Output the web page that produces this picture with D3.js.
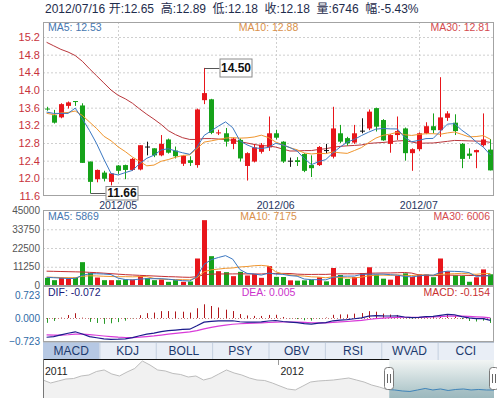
<!DOCTYPE html>
<html>
<head>
<meta charset="utf-8">
<script src="https://cdn.jsdelivr.net/npm/d3@7"></script>
<style>
  html, body { margin: 0; padding: 0; background: #fff; }
  svg { display: block; font-family: "Liberation Sans", Arial, "Noto Sans CJK SC", sans-serif; }
</style>
</head>
<body>
<svg id="chart" width="497" height="400"></svg>
<script>
// ---- daily data, 2012/04/16 - 2012/07/16 ----
const dates = [
  "2012-04-16","2012-04-17","2012-04-18","2012-04-19","2012-04-20","2012-04-23","2012-04-24","2012-04-25","2012-04-26","2012-04-27",
  "2012-05-02","2012-05-03","2012-05-04","2012-05-07","2012-05-08","2012-05-09","2012-05-10","2012-05-11","2012-05-14","2012-05-15",
  "2012-05-16","2012-05-17","2012-05-18","2012-05-21","2012-05-22","2012-05-23","2012-05-24","2012-05-25","2012-05-28","2012-05-29",
  "2012-05-30","2012-05-31","2012-06-01","2012-06-04","2012-06-05","2012-06-06","2012-06-07","2012-06-08","2012-06-11","2012-06-12",
  "2012-06-13","2012-06-14","2012-06-15","2012-06-18","2012-06-19","2012-06-20","2012-06-21","2012-06-25","2012-06-26","2012-06-27",
  "2012-06-28","2012-06-29","2012-07-02","2012-07-03","2012-07-04","2012-07-05","2012-07-06","2012-07-09","2012-07-10","2012-07-11",
  "2012-07-12","2012-07-13","2012-07-16"
];
const open = [
  13.58,13.43,13.38,13.64,13.75,13.65,12.38,11.98,12.13,11.92,
  12.29,12.30,12.19,12.20,12.72,12.68,12.52,12.88,12.63,12.33,
  12.41,12.30,13.77,13.79,13.03,13.02,12.78,12.87,12.28,12.38,
  12.60,12.70,13.02,12.83,12.40,12.41,12.55,12.30,12.30,12.64,
  12.49,13.02,12.91,12.81,13.08,13.13,13.59,13.32,12.78,12.98,
  13.13,12.57,12.66,13.02,13.18,13.09,13.37,13.26,12.78,12.56,
  12.59,12.75,12.65
];
const high = [
  13.62,13.55,13.70,13.74,13.75,13.70,12.38,12.20,12.17,12.12,
  12.30,12.31,12.46,12.75,12.83,12.68,12.98,12.90,12.72,12.53,
  12.50,13.58,14.50,13.80,13.10,13.14,12.92,12.90,12.59,12.78,
  12.80,13.40,13.10,12.84,12.47,12.48,12.57,12.52,12.73,12.78,
  13.62,13.21,12.94,13.21,13.36,13.56,13.60,13.34,13.00,13.40,
  13.15,12.68,13.04,13.27,13.47,14.29,13.52,13.45,12.80,12.68,
  12.65,13.47,12.89
];
const low = [
  13.53,13.24,13.36,13.58,13.64,12.35,11.66,11.91,11.93,11.84,
  12.10,11.98,12.17,12.18,12.52,12.48,12.50,12.56,12.45,12.28,
  12.28,12.24,13.68,13.00,12.98,12.72,12.66,12.38,11.95,12.36,
  12.56,12.62,12.88,12.35,12.26,12.28,12.14,12.03,12.28,12.57,
  12.45,12.80,12.74,12.78,13.02,13.09,13.06,12.85,12.58,12.87,
  12.40,12.17,12.62,13.00,13.02,12.94,13.30,12.98,12.23,12.44,
  12.23,12.72,12.18
];
const close = [
  13.56,13.26,13.68,13.72,13.73,12.35,11.92,12.19,11.99,12.11,
  12.17,12.19,12.44,12.75,12.72,12.52,12.78,12.58,12.50,12.51,
  12.35,13.56,13.93,13.03,13.04,12.83,12.90,12.45,12.57,12.70,
  12.76,13.02,12.92,12.38,12.40,12.37,12.17,12.23,12.71,12.64,
  13.13,12.83,12.79,13.02,13.08,13.51,13.17,12.86,12.98,13.07,
  12.57,12.66,13.02,13.18,13.09,13.38,13.47,13.07,12.44,12.51,
  12.64,12.88,12.18
];
const volume = [
  4600,3200,4600,4000,4800,14000,7600,4800,3200,3200,
  3200,3600,3600,5600,4400,3200,3600,2200,3200,2200,
  2400,16200,39200,17600,8600,8000,5600,8200,6000,6800,
  4600,11600,5200,5100,3100,2900,3100,3500,4900,2500,
  10500,6300,3900,5100,7500,10930,6500,4100,3500,5900,
  7300,5100,6700,6600,5000,16200,8500,6105,5750,2250,
  4950,9649,6746
];

// sessions just before the window (needed to start the 5/10-day averages)
const closesBefore = [13.55,13.30,13.62,13.40,13.35,13.41,13.68,13.72,13.13];
const volumesBefore = [5200,6000,4800,5600,5000,4400,5800,5200,4600];
// 30-day averages for sessions whose window reaches back before 2012/04/16
const ma30Lead = [
  15.08,15.00,14.92,14.86,14.78,14.65,14.48,14.32,14.16,14.00,
  13.88,13.80,13.70,13.57,13.45,13.34,13.22,13.08,12.99,12.92,
  12.88,12.88,12.90,12.90,12.89,12.88,12.86,12.83,12.80
];
const volMa30Lead = [
  8600,8500,8400,8300,8200,8100,7900,7700,7400,7100,
  6800,6500,6300,6100,5900,5700,5500,5300,5200,5000,
  4900,5300,6450,6850,6900,6950,6950,7000,6950
];
// EMA state carried in from the session before 2012/04/16
const macdSeed = { ema12: 13.60, ema26: 14.25, dea: -0.51 };

const priceTicks = [11.6,12.0,12.4,12.8,13.2,13.6,14.0,14.4,14.8,15.2];
const volumeTicks = [0,11250,22500,33750,45000];
const macdTicks = [-0.723,0,0.723];
const indicatorTabs = ["MACD","KDJ","BOLL","PSY","OBV","RSI","WVAD","CCI"];

// long-range overview series for the navigator strip
const overview = [
  13.73,13.19,13.55,13.91,14.00,14.45,14.63,15.26,15.53,14.81,
  14.45,15.17,15.80,17.14,16.42,15.53,15.35,14.90,14.72,14.27,
  14.45,13.73,14.09,14.81,15.53,14.99,14.63,14.09,13.73,13.64,
  13.19,12.65,12.12,11.94,12.65,13.37,13.55,13.64,13.73,13.91,
  14.09,13.73,13.37,12.83,12.47,12.03,11.94,11.76,11.67,11.94,
  12.21,11.94,12.12,11.85,12.03,12.12,11.94,12.03,11.94,11.94
];
const overviewYears = [["2011", 0], ["2012", 30.8]];
const overviewSelectionStart = 45.3;

// ---- derived series ----
function movingAverage(values, before, period, lead) {
  const all = before.concat(values);
  const off = before.length;
  return values.map((_, i) => {
    if (lead && i < lead.length) return lead[i];
    return d3.mean(all.slice(off + i - period + 1, off + i + 1));
  });
}
const ma5 = movingAverage(close, closesBefore, 5);
const ma10 = movingAverage(close, closesBefore, 10);
const ma30 = movingAverage(close, closesBefore, 30, ma30Lead);
const vma5 = movingAverage(volume, volumesBefore, 5);
const vma10 = movingAverage(volume, volumesBefore, 10);
const vma30 = movingAverage(volume, volumesBefore, 30, volMa30Lead);

const dif = [], dea = [], macdHist = [];
{
  let e12 = macdSeed.ema12, e26 = macdSeed.ema26, de = macdSeed.dea;
  close.forEach(c => {
    e12 = e12 * 11 / 13 + c * 2 / 13;
    e26 = e26 * 25 / 27 + c * 2 / 27;
    const d = e12 - e26;
    de = de * 0.8 + d * 0.2;
    dif.push(d); dea.push(de); macdHist.push(2 * (d - de));
  });
}

// ---- layout ----
const svg = d3.select("#chart");
const L = 43, R = 494;
const n = close.length;
const last = n - 1;
const UP = "#e8161b", DOWN = "#16a21a", DOJI = "#111";
const BORDER = "#a3a3a3", GRID = "#cfcfcf";

const x = d3.scaleBand().domain(d3.range(n)).range([L, R]);
const cx = i => x(i) + x.bandwidth() / 2;
const bodyW = 5;

const price = { top: 22, bottom: 196 };
const vol = { top: 210, bottom: 286 };
const mac = { top: 286, bottom: 342 };

const yP = d3.scaleLinear().domain([11.6, 15.2]).range([196, 37]);
const yV = d3.scaleLinear().domain([0, 45000]).range([285.5, 210.5]);
const yM = d3.scaleLinear().domain([-0.723, 0.723]).range([341, 295]);

const candleColor = i => close[i] > open[i] ? UP : close[i] < open[i] ? DOWN : DOJI;
const volColor = i => {
  if (close[i] !== open[i]) return close[i] > open[i] ? UP : DOWN;
  const prev = i > 0 ? close[i - 1] : closesBefore[closesBefore.length - 1];
  return close[i] >= prev ? UP : DOWN;
};

// month boundaries
const monthStarts = d3.range(n).filter(i => i > 0 && dates[i].slice(5, 7) !== dates[i - 1].slice(5, 7));

// ---- header ----
const pct = (close[last] - close[last - 1]) / close[last - 1] * 100;
const headerParts = [
  dates[last].replace(/-/g, "/"),
  "开:" + open[last].toFixed(2),
  "高:" + high[last].toFixed(2),
  "低:" + low[last].toFixed(2),
  "收:" + close[last].toFixed(2),
  "量:" + volume[last],
  "幅:" + pct.toFixed(2) + "%"
];
{
  let hx = 45;
  headerParts.forEach((t, k) => {
    const node = svg.append("text").attr("x", hx).attr("y", 12.6)
      .attr("font-size", 12).attr("fill", "#1e2c4c").text(t);
    hx += node.node().getComputedTextLength() + (k === 0 ? 3.6 : 6.6);
  });
}

// ---- clip paths ----
const defs = svg.append("defs");
defs.append("clipPath").attr("id", "clipPrice").append("rect")
  .attr("x", L).attr("y", price.top).attr("width", R - L).attr("height", price.bottom - price.top);
defs.append("clipPath").attr("id", "clipVol").append("rect")
  .attr("x", L).attr("y", vol.top).attr("width", R - L).attr("height", vol.bottom - vol.top);
defs.append("clipPath").attr("id", "clipMacd").append("rect")
  .attr("x", L).attr("y", mac.top).attr("width", R - L).attr("height", mac.bottom - mac.top);

function panelFrame(p) {
  svg.append("rect").attr("x", L + 0.5).attr("y", p.top + 0.5)
    .attr("width", R - L - 1).attr("height", p.bottom - p.top - 1)
    .attr("fill", "none").attr("stroke", BORDER);
}
function monthGrid(p) {
  svg.append("g").selectAll("line").data(monthStarts).join("line")
    .attr("x1", i => Math.round(cx(i)) + 0.5).attr("x2", i => Math.round(cx(i)) + 0.5)
    .attr("y1", p.top).attr("y2", p.bottom)
    .attr("stroke", GRID).attr("stroke-dasharray", "2,2");
}
function styleAxis(g, color, size) {
  g.select(".domain").remove();
  g.selectAll(".tick line").attr("stroke", GRID).attr("stroke-dasharray", "2,2");
  g.selectAll(".tick text").attr("fill", color).attr("font-size", size)
    .attr("font-family", "Liberation Sans, Arial, sans-serif");
}

// ---- price panel ----
monthGrid(price);
svg.append("g").attr("transform", `translate(${L},0)`)
  .call(d3.axisLeft(yP).tickValues(priceTicks).tickSize(-(R - L)).tickPadding(3).tickFormat(d3.format(".1f")))
  .call(g => styleAxis(g, "#c8323c", 11))
  .call(g => g.selectAll(".tick line").filter(d => d === 11.6).remove());

const pg = svg.append("g").attr("clip-path", "url(#clipPrice)");
const lineP = d3.line().x((d, i) => cx(i)).y(d => yP(d));
pg.append("path").datum(ma30).attr("d", lineP).attr("fill", "none").attr("stroke", "#b9373c").attr("stroke-width", 1);

const candles = pg.append("g").selectAll("g").data(d3.range(n)).join("g");
candles.append("line")
  .attr("x1", i => Math.round(cx(i)) + 0.5).attr("x2", i => Math.round(cx(i)) + 0.5)
  .attr("y1", i => yP(high[i])).attr("y2", i => yP(low[i]))
  .attr("stroke", candleColor);
candles.append("rect")
  .attr("x", i => Math.round(cx(i)) + 0.5 - bodyW / 2)
  .attr("y", i => yP(Math.max(open[i], close[i])))
  .attr("width", bodyW)
  .attr("height", i => Math.max(1, yP(Math.min(open[i], close[i])) - yP(Math.max(open[i], close[i]))))
  .attr("fill", candleColor);

pg.append("path").datum(ma10).attr("d", lineP).attr("fill", "none").attr("stroke", "#f0962e").attr("stroke-width", 1);
pg.append("path").datum(ma5).attr("d", lineP).attr("fill", "none").attr("stroke", "#3b78c2").attr("stroke-width", 1);

// extreme value call-outs: connector from the wick end to a boxed label
function callout(i, v, boxTop, boxH, textShift) {
  const px = Math.round(cx(i)) + 0.5, py = Math.round(yP(v)) + 0.5;
  const bx = px + 15, bw = 32;
  svg.append("line").attr("x1", px).attr("x2", bx).attr("y1", py).attr("y2", py).attr("stroke", "#555");
  svg.append("rect").attr("x", bx + 0.5).attr("y", py + boxTop).attr("width", bw).attr("height", boxH)
    .attr("fill", "#fff").attr("stroke", "#8a8a8a");
  svg.append("text").attr("x", bx + 0.5 + bw / 2).attr("y", py + boxTop + boxH / 2 + 4.3 + textShift)
    .attr("text-anchor", "middle")
    .attr("font-size", 12).attr("font-weight", "bold").attr("fill", "#111").text(v.toFixed(2));
}
const hiIdx = d3.maxIndex(high), loIdx = d3.minIndex(low);

// legend
function legend(p, baseline, items) {
  svg.append("text").attr("x", 48).attr("y", baseline).attr("font-size", 10.5).attr("fill", items[0][1]).text(items[0][0]);
  svg.append("text").attr("x", (L + R) / 2).attr("y", baseline).attr("text-anchor", "middle")
    .attr("font-size", 10.5).attr("fill", items[1][1]).text(items[1][0]);
  svg.append("text").attr("x", R - 4).attr("y", baseline).attr("text-anchor", "end")
    .attr("font-size", 10.5).attr("fill", items[2][1]).text(items[2][0]);
}
legend(price, 30.5, [
  ["MA5: " + ma5[last].toFixed(2), "#4677b0"],
  ["MA10: " + ma10[last].toFixed(2), "#d9904a"],
  ["MA30: " + ma30[last].toFixed(2), "#d44a4e"]
]);
panelFrame(price);
callout(hiIdx, high[hiIdx], -9.5, 18, 0);
callout(loIdx, low[loIdx], -7, 13.5, -1);

// month labels
svg.append("g").selectAll("text").data(monthStarts).join("text")
  .attr("x", i => cx(i)).attr("y", 208.9).attr("text-anchor", "middle")
  .attr("font-size", 10.5).attr("fill", "#1f3560")
  .text(i => dates[i].slice(0, 7).replace("-", "/"));

// ---- volume panel ----
monthGrid(vol);
svg.append("g").attr("transform", `translate(${L},0)`)
  .call(d3.axisLeft(yV).tickValues(volumeTicks).tickSize(-(R - L)).tickPadding(3).tickFormat(d3.format("d")))
  .call(g => styleAxis(g, "#555", 10))
  .call(g => g.selectAll(".tick line").filter(d => d === 0 || d === 45000).remove());
const vg = svg.append("g").attr("clip-path", "url(#clipVol)");
vg.selectAll("rect").data(d3.range(n)).join("rect")
  .attr("x", i => Math.round(cx(i)) + 0.5 - bodyW / 2)
  .attr("y", i => yV(volume[i]))
  .attr("width", bodyW)
  .attr("height", i => yV(0) - yV(volume[i]))
  .attr("fill", volColor);
const lineV = d3.line().x((d, i) => cx(i)).y(d => yV(d));
vg.append("path").datum(vma30).attr("d", lineV).attr("fill", "none").attr("stroke", "#c42e32");
vg.append("path").datum(vma10).attr("d", lineV).attr("fill", "none").attr("stroke", "#f0962e");
vg.append("path").datum(vma5).attr("d", lineV).attr("fill", "none").attr("stroke", "#3b78c2");
legend(vol, 219.8, [
  ["MA5: " + Math.round(vma5[last]), "#4677b0"],
  ["MA10: " + Math.round(vma10[last]), "#d9904a"],
  ["MA30: " + Math.round(vma30[last]), "#d44a4e"]
]);
panelFrame(vol);

// ---- MACD panel ----
svg.append("g").attr("transform", `translate(${L},0)`)
  .call(d3.axisLeft(yM).tickValues(macdTicks).tickSize(0).tickPadding(3).tickFormat(d3.format(".3f")))
  .call(g => styleAxis(g, "#2e6aa6", 10));
const mg = svg.append("g").attr("clip-path", "url(#clipMacd)");
mg.append("line").attr("x1", L).attr("x2", R).attr("y1", Math.round(yM(0)) + 0.5).attr("y2", Math.round(yM(0)) + 0.5)
  .attr("stroke", "#c87878").attr("stroke-dasharray", "1,2");
mg.selectAll("line.bar").data(d3.range(n)).join("line").attr("class", "bar")
  .attr("x1", i => Math.round(cx(i)) + 0.5).attr("x2", i => Math.round(cx(i)) + 0.5)
  .attr("y1", yM(0)).attr("y2", i => yM(macdHist[i]))
  .attr("stroke", i => macdHist[i] >= 0 ? "#b0161b" : "#2a9a2a");
const lineM = d3.line().x((d, i) => cx(i)).y(d => yM(d));
mg.append("path").datum(dea).attr("d", lineM).attr("fill", "none").attr("stroke", "#d93ad9").attr("stroke-width", 1.2);
mg.append("path").datum(dif).attr("d", lineM).attr("fill", "none").attr("stroke", "#1c1c8c").attr("stroke-width", 1.2);
legend(mac, 295.5, [
  ["DIF: " + dif[last].toFixed(3), "#1a1a7a"],
  ["DEA: " + dea[last].toFixed(3), "#cc33cc"],
  ["MACD: " + macdHist[last].toFixed(3), "#c83030"]
]);
panelFrame(mac);

// ---- indicator tabs ----
const tabTop = 342, tabBottom = 360;
const tabW = (R - L) / indicatorTabs.length;
svg.append("rect").attr("x", L).attr("y", tabTop).attr("width", R - L).attr("height", tabBottom - tabTop).attr("fill", "#e9eef6");
const tabs = svg.append("g").selectAll("g").data(indicatorTabs).join("g")
  .attr("transform", (d, k) => `translate(${L + k * tabW},${tabTop})`);
tabs.append("rect").attr("width", tabW).attr("height", tabBottom - tabTop)
  .attr("fill", (d, k) => k === 0 ? "#b6c8e3" : "#e9eef6");
tabs.filter((d, k) => k > 0).append("line").attr("x1", 0.5).attr("x2", 0.5).attr("y1", 0).attr("y2", tabBottom - tabTop)
  .attr("stroke", "#c3cfdf");
tabs.append("text").attr("x", tabW / 2).attr("y", 13.2).attr("text-anchor", "middle")
  .attr("font-size", 12).attr("fill", "#1d3a6e").text(d => d);
svg.append("line").attr("x1", L).attr("x2", R).attr("y1", tabTop + 0.5).attr("y2", tabTop + 0.5).attr("stroke", "#b5c0cf");

// ---- navigator ----
const navTop = 360, navBottom = 398;
const xo = d3.scaleLinear().domain([0, overview.length - 1]).range([L, R]);
const yo = d3.scaleLinear().domain([10.5, 17.5]).range([navBottom, 359]);
const selX = xo(overviewSelectionStart);
const grad = defs.append("linearGradient").attr("id", "selFill").attr("x1", 0).attr("x2", 0).attr("y1", 0).attr("y2", 1);
grad.append("stop").attr("offset", "0%").attr("stop-color", "#f2f5f4");
grad.append("stop").attr("offset", "100%").attr("stop-color", "#a4bfc3");
defs.append("clipPath").attr("id", "clipOut").append("rect").attr("x", L).attr("y", navTop).attr("width", selX - L).attr("height", navBottom - navTop);
defs.append("clipPath").attr("id", "clipIn").append("rect").attr("x", selX).attr("y", navTop).attr("width", R - selX).attr("height", navBottom - navTop);

const areaO = d3.area().x((d, i) => xo(i)).y0(navBottom).y1(d => yo(d));
const lineO = d3.line().x((d, i) => xo(i)).y(d => yo(d));
const outG = svg.append("g").attr("clip-path", "url(#clipOut)");
outG.append("path").datum(overview).attr("d", areaO).attr("fill", "#f1f1f1");
outG.append("path").datum(overview).attr("d", lineO).attr("fill", "none").attr("stroke", "#bcbcbc");
svg.append("rect").attr("x", selX).attr("y", navTop).attr("width", R - selX).attr("height", navBottom - navTop).attr("fill", "url(#selFill)");
const inG = svg.append("g").attr("clip-path", "url(#clipIn)");
inG.append("path").datum(overview).attr("d", areaO).attr("fill", "#8fb0b8").attr("opacity", 0.35);
inG.append("path").datum(overview).attr("d", lineO).attr("fill", "none").attr("stroke", "#3f83b8");

svg.append("line").attr("x1", L).attr("x2", selX).attr("y1", navTop - 0.5).attr("y2", navTop - 0.5).attr("stroke", "#111");
svg.append("line").attr("x1", L + 0.5).attr("x2", L + 0.5).attr("y1", navTop - 1).attr("y2", navBottom).attr("stroke", "#777");
svg.append("g").selectAll("g").data(overviewYears).join("g").each(function ([label, at]) {
  const g = d3.select(this), xx = Math.round(xo(at)) + 0.5;
  if (at > 0) g.append("line").attr("x1", xx).attr("x2", xx).attr("y1", navTop).attr("y2", navTop + 5).attr("stroke", "#999");
  g.append("text").attr("x", xo(at) + 2).attr("y", 374.8).attr("font-size", 10.5).attr("fill", "#222").text(label);
});
[selX, R].forEach(hx => {
  const g = svg.append("g").attr("transform", `translate(${Math.round(hx)},0)`);
  g.append("rect").attr("x", -4.5).attr("y", 367.5).attr("width", 9).attr("height", 22).attr("rx", 3)
    .attr("fill", "#fff").attr("stroke", "#7a7a7a");
  [-1.5, 1.5].forEach(o => g.append("line").attr("x1", o).attr("x2", o).attr("y1", 374).attr("y2", 383).attr("stroke", "#666"));
});
</script>
</body>
</html>
